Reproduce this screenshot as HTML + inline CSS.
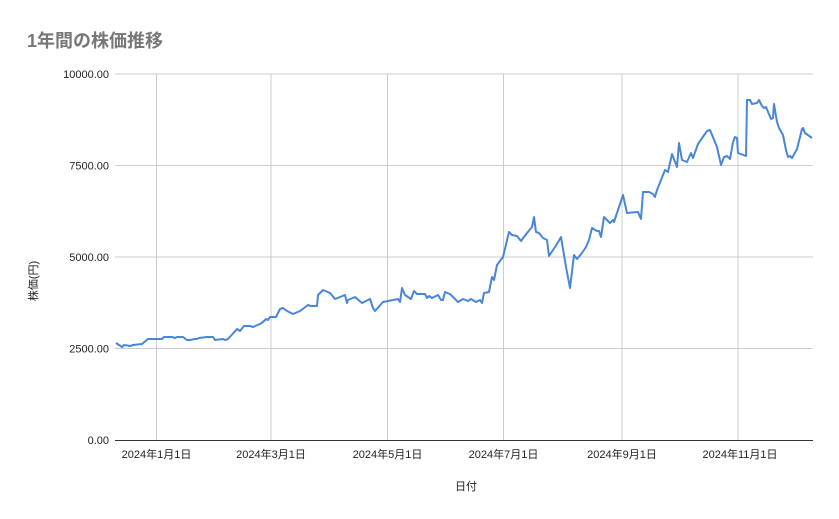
<!DOCTYPE html>
<html><head><meta charset="utf-8"><style>
body{margin:0;background:#fff}
svg{display:block}
text{font-family:"Liberation Sans","Noto Sans CJK JP",sans-serif}
</style></head><body>
<svg width="839" height="519" viewBox="0 0 839 519" xmlns="http://www.w3.org/2000/svg">
<rect width="839" height="519" fill="#fff"/>
<text x="27" y="47" font-size="18" font-weight="bold" fill="#777777">1年間の株価推移</text>
<g stroke="#cccccc" stroke-width="1">
<line x1="115" y1="74" x2="813" y2="74"/>
<line x1="115" y1="165.5" x2="813" y2="165.5"/>
<line x1="115" y1="257" x2="813" y2="257"/>
<line x1="115" y1="348.5" x2="813" y2="348.5"/>
<line x1="156.5" y1="74" x2="156.5" y2="440"/>
<line x1="271" y1="74" x2="271" y2="440"/>
<line x1="387.5" y1="74" x2="387.5" y2="440"/>
<line x1="503.5" y1="74" x2="503.5" y2="440"/>
<line x1="622" y1="74" x2="622" y2="440"/>
<line x1="738" y1="74" x2="738" y2="440"/>
</g>
<line x1="115" y1="440.5" x2="813" y2="440.5" stroke="#333" stroke-width="1"/>
<g font-size="11" fill="#222" text-anchor="end">
<text x="109" y="78">10000.00</text>
<text x="109" y="169.5">7500.00</text>
<text x="109" y="261">5000.00</text>
<text x="109" y="352.5">2500.00</text>
<text x="109" y="444">0.00</text>
</g>
<g font-size="11" fill="#222" text-anchor="middle">
<text x="156.5" y="458">2024年1月1日</text>
<text x="271" y="458">2024年3月1日</text>
<text x="387.5" y="458">2024年5月1日</text>
<text x="503.5" y="458">2024年7月1日</text>
<text x="622" y="458">2024年9月1日</text>
<text x="740" y="458">2024年11月1日</text>
<text x="466" y="490">日付</text>
</g>
<text transform="translate(37,281) rotate(-90)" font-size="11" fill="#222" text-anchor="middle">株価(円)</text>
<polyline fill="none" stroke="#4a86d8" stroke-width="2" stroke-linejoin="round" points="
116,343 122,347 124,345 130,346 133,345 142,344 148,339 162,339 164,337 172,337 175,338 177,337 183,337 187,340 190,340 195,339 197,339 199,338 207,337 213,337 215,340 223,339 225,340 228,339 237,329 240,331 244,326 250,326 253,327 260,324 263,322 266,319 268,320 270,317 276,317 280,309 283,308 287,311 293,314 300,311 308,305 311,306 317,306 318,295 323,290 330,293 335,299 340,297 345,295 347,303 348,300 355,297 362,303 370,299 373,308 375,311 383,302 388,301 398,299 400,302 402,288 405,295 411,299 414,291 417,294 425,294 427,298 429,296 432,298 438,295 441,300 443,300 445,292 450,294 456,300 458,302 463,299 468,301 471,299 476,302 480,300 482,303 484,293 489,292 492,277 494,280 497,265 503,257 509,232 512,235 517,236 521,241 527,233 532,227 534,217 536,232 539,233 543,238 547,240 549,256 553,250 557,244 561,237 566,267 570,288 574,255 577,259 582,253 586,247 589,240 592,228 597,231 599,231 601,237 604,217 610,223 613,220 614,222 623,195 627,213 638,212 641,219 643,192 649,192 653,194 655,197 657,190 665,170 668,172 672,154 677,167 679,143 682,160 687,162 691,153 693,158 698,144 707,131 710,130 717,147 721,165 724,157 727,156 730,159 733,142 735,137 737,138 738,153 746,156 747,100 750,100 752,104 757,103 759,100 762,106 764,108 766,107 771,119 773,118 774,104 777,122 779,128 783,135 786,150 788,157 790,156 792,158 797,149 802,129 803,128 805,133 812,138"/>
</svg>
</body></html>
